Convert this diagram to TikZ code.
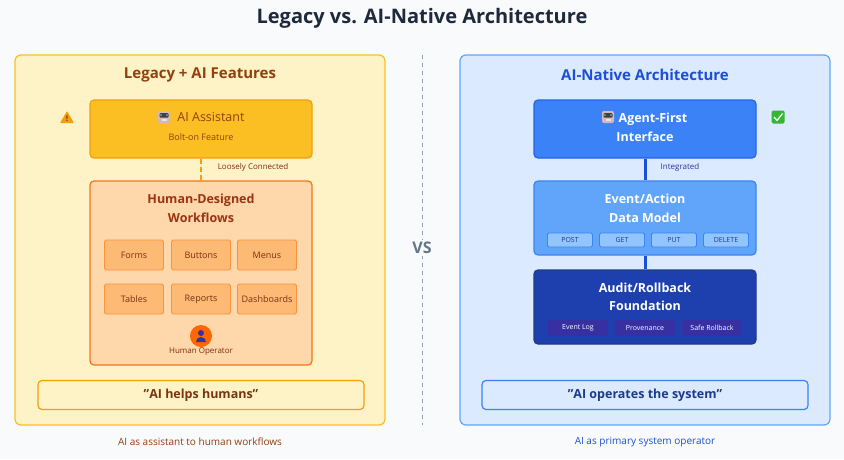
\documentclass[tikz,border=0pt]{standalone}
\usepackage{fontspec}
\setmainfont{Open Sans}
\begin{document}
\begin{tikzpicture}[x=1pt,y=-1pt,
  box/.style={draw,rounded corners=4pt,line width=1.2pt},
  chip/.style={draw,rounded corners=1.5pt,line width=0.8pt,fill=#1},
  t/.style={font=\fontsize{#1}{#1}\selectfont,inner sep=0pt},
  tb/.style={font=\fontsize{#1}{#1}\selectfont\bfseries,inner sep=0pt},
  robot/.pic={\fill[rounded corners=2pt,fill=pink!60!gray!80] (-6,-6) rectangle (6,6);
    \fill[black!75,rounded corners=1pt] (-4.5,-4) rectangle (4.5,0.5);
    \fill[cyan!60] (-3,-2) circle (0.9pt) (3,-2) circle (0.9pt);
    \fill[white!80!gray] (-2.5,2) rectangle (2.5,4);}]
\definecolor{bg}{HTML}{F8FAFC}
\definecolor{lfill}{HTML}{FEF3C7}\definecolor{lbord}{HTML}{FBBF24}
\definecolor{amber}{HTML}{F59E0B}\definecolor{brown}{HTML}{92400E}
\definecolor{wf}{HTML}{FED7AA}\definecolor{orng}{HTML}{F97316}
\definecolor{wft}{HTML}{9A3412}\definecolor{btn}{HTML}{FDBA74}\definecolor{btnb}{HTML}{FB923C}
\definecolor{btnt}{HTML}{7C2D12}\definecolor{ddark}{HTML}{78350F}
\definecolor{rfill}{HTML}{DBEAFE}\definecolor{rbord}{HTML}{60A5FA}
\definecolor{b5}{HTML}{3B82F6}\definecolor{b6}{HTML}{2563EB}\definecolor{b7}{HTML}{1D4ED8}
\definecolor{b8}{HTML}{1E40AF}\definecolor{b9}{HTML}{1E3A8A}\definecolor{b3}{HTML}{93C5FD}
\definecolor{ind}{HTML}{3730A3}\definecolor{slate}{HTML}{64748B}\definecolor{title}{HTML}{1E293B}
\useasboundingbox (0,0) rectangle (844,459);
\fill[bg] (0,0) rectangle (844,459);
\node[tb=20,text=title] (title) at (422,18) {Legacy vs. AI-Native Architecture};
% left
\node[box,draw=lbord,fill=lfill,minimum width=370pt,minimum height=370pt,rounded corners=6pt] (lp) at (200,240) {};
\node[tb=15,text=brown] (lt) at (200,75) {Legacy + AI Features};
\node[box,draw=amber,fill=lbord,minimum width=222pt,minimum height=58pt] (ai) at (201,129) {};
\node[t=12.5,text=brown] (ait) at (211,117) {AI Assistant};
\node[t=9,text=brown] (ais) at (201,137) {Bolt-on Feature};
\pic at (164,117) {robot};
\fill[amber,rounded corners=0.8pt] (60,123) -- (67,111) -- (74,123) -- cycle;
\node[tb=8,text=ddark] at (67,118.5) {!};
\node[box,draw=orng,fill=wf,minimum width=222pt,minimum height=184pt] (wfb) at (201,273) {};
\draw[amber,line width=2pt,dash pattern=on 5pt off 3pt] (ai.south) -- (wfb.north);
\node[t=8,text=btnt] (lc) at (253,167) {Loosely Connected};
\node[text=wft,align=center,inner sep=0pt,font=\fontsize{12.5}{19}\selectfont\bfseries] (wft) at (201,208) {Human-Designed\\Workflows};
\foreach \n/\x/\y in {Forms/134/255,Buttons/201/255,Menus/267/255,Tables/134/299,Reports/201/299,Dashboards/267/299}
  \node[chip=btn,draw=btnb,minimum width=59pt,minimum height=30pt,t=9,text=btnt] (\n) at (\x,\y) {\n};
\node[circle,fill=orange!80!red,minimum size=22pt,inner sep=0pt] (op) at (201,336) {};
\fill[ind] (201,333) circle (3pt);
\fill[ind] (196,342) arc (180:0:5pt) -- cycle;
\node[t=8,text=btnt] (opt) at (201,352) {Human Operator};
\node[box,draw=amber,fill=lfill,minimum width=326pt,minimum height=29pt,tb=12.5,text=ddark] (lq) at (201,395) {\symbol{34}AI helps humans\symbol{34}};
\node[t=10,text=brown] (lcap) at (200,442) {AI as assistant to human workflows};
% divider
\coordinate (d1) at (422,55); \coordinate (d2) at (422,425);
\draw[slate!70,line width=1pt,dash pattern=on 4pt off 4pt] (d1) -- (d2);
\node[tb=16,text=slate,fill=bg,inner sep=2pt] (vs) at (422,248) {VS};
% right
\node[box,draw=rbord,fill=rfill,minimum width=370pt,minimum height=370pt,rounded corners=6pt] (rp) at (645,240) {};
\node[tb=15,text=b7] (rt) at (645,75) {AI-Native Architecture};
\node[box,draw=b6,fill=b5,minimum width=222pt,minimum height=58pt] (ag) at (645,129) {};
\node[text=white,align=center,inner sep=0pt,font=\fontsize{12.5}{19}\selectfont\bfseries] (agt) at (645,127) {\hspace{16pt}Agent-First\\Interface};
\pic at (608,117) {robot};
\node[fill=green!65!black!80,rounded corners=1.5pt,minimum size=13pt,inner sep=0pt] (ck) at (778,117) {};
\draw[white,line width=1.3pt] (774,117) -- (777,120.5) -- (782.5,113.5);
\node[box,draw=b5,fill=rbord,minimum width=222pt,minimum height=74pt] (ev) at (645,218) {};
\draw[b7,line width=3pt] (ag.south) -- (ev.north);
\node[t=8,text=ind] (int) at (680,167) {Integrated};
\node[text=white,align=center,inner sep=0pt,font=\fontsize{12.5}{19}\selectfont\bfseries] (evt) at (645,208) {Event/Action\\Data Model};
\foreach \n/\x in {POST/570,GET/622,PUT/674,DELETE/726}
  \node[chip=b3,draw=b5,minimum width=45pt,minimum height=14pt,t=7,text=b9] (\n) at (\x,240) {\n};
\node[box,draw=b9,fill=b8,minimum width=222pt,minimum height=74pt] (au) at (645,307) {};
\draw[b7,line width=3pt] (ev.south) -- (au.north);
\node[text=white,align=center,inner sep=0pt,font=\fontsize{12.5}{18}\selectfont\bfseries] (aut) at (645,297) {Audit/Rollback\\Foundation};
\foreach \n/\l/\x in {el/Event Log/578,pv/Provenance/645,sr/Safe Rollback/712}
  \node[chip=ind,draw=ind,minimum width=59pt,minimum height=15pt,t=7,text=white] (\n) at (\x,328) {\l};
\node[box,draw=b5,fill=rfill,minimum width=326pt,minimum height=29pt,tb=12.5,text=b9] (rq) at (645,395) {\symbol{34}AI operates the system\symbol{34}};
\node[t=10,text=b7] (rcap) at (645,442) {AI as primary system operator};
\end{tikzpicture}
\end{document}
